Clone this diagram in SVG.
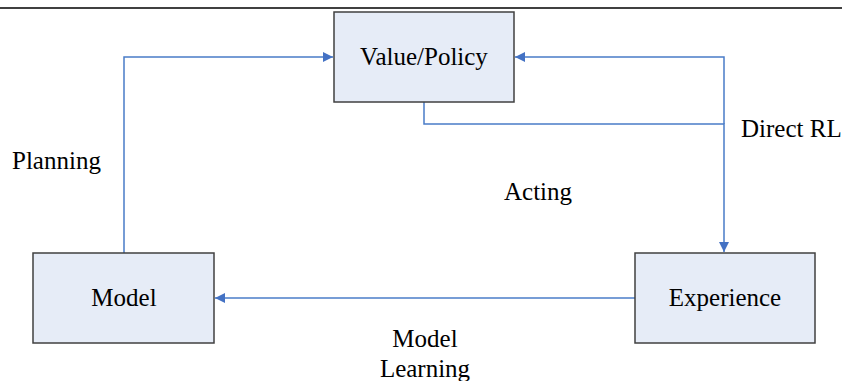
<svg xmlns="http://www.w3.org/2000/svg" width="842" height="381" viewBox="0 0 842 381">
  <style>
    .box { fill: #E6ECF7; stroke: #404040; stroke-width: 1.5; }
    .lbl { font-family: "Liberation Serif", "Times New Roman", serif; font-size: 25px; fill: #000; }
    .conn { fill: none; stroke: #4A7CC8; stroke-width: 1.5; }
  </style>
  <defs>
    <marker id="arr" viewBox="0 0 10 10" refX="10" refY="5" markerWidth="10" markerHeight="10" markerUnits="userSpaceOnUse" orient="auto">
      <path d="M0,0 L10,5 L0,10 z" fill="#4472C4"/>
    </marker>
  </defs>
  <rect width="842" height="381" fill="#fff"/>
  <line x1="0" y1="8" x2="842" y2="8" stroke="#000" stroke-width="1.5"/>

  <g id="connectors">
    <polyline class="conn" points="124,253 124,57 333,57" marker-end="url(#arr)"/>
    <polyline class="conn" points="724,124 724,57 515,57" marker-end="url(#arr)"/>
    <polyline class="conn" points="424,102 424,124 724,124 724,252" marker-end="url(#arr)"/>
    <line class="conn" x1="635" y1="298" x2="215" y2="298" marker-end="url(#arr)"/>
  </g>

  <g id="value-policy">
    <rect class="box" x="334" y="12" width="180" height="90"/>
    <text class="lbl" x="424" y="65" text-anchor="middle">Value/Policy</text>
  </g>
  <g id="model">
    <rect class="box" x="33" y="253" width="181" height="90"/>
    <text class="lbl" x="124" y="306" text-anchor="middle">Model</text>
  </g>
  <g id="experience">
    <rect class="box" x="635" y="253" width="180" height="90"/>
    <text class="lbl" x="725" y="306" text-anchor="middle">Experience</text>
  </g>

  <g id="labels">
    <text class="lbl" x="12" y="169">Planning</text>
    <text class="lbl" x="741" y="137">Direct RL</text>
    <text class="lbl" x="504" y="200">Acting</text>
    <text class="lbl" x="425" y="347" text-anchor="middle">Model</text>
    <text class="lbl" x="425" y="377" text-anchor="middle">Learning</text>
  </g>
</svg>
